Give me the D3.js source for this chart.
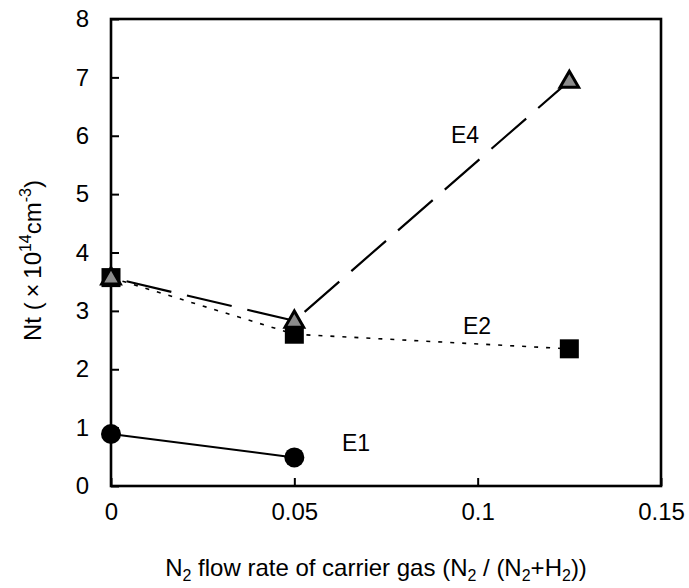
<!DOCTYPE html>
<html>
<head>
<meta charset="utf-8">
<script src="https://cdn.jsdelivr.net/npm/d3@7"></script>
<style>
    body { margin: 0; background: #fff; }
    svg text { font-family: "Liberation Sans", Arial, sans-serif; fill: #000; }
</style>
</head>
<body>
<div id="chart"></div>
<script>
// data
const flowRate = [0, 0.05, 0.125];
const e1Values = [0.89, 0.49];
const e2Values = [3.57, 2.60, 2.35];
const e4Values = [3.57, 2.83, 6.94];
const xTicks = [0, 0.05, 0.1, 0.15];
const yTicks = [0, 1, 2, 3, 4, 5, 6, 7, 8];

document.addEventListener("DOMContentLoaded", () => {
    const width = 689, height = 588;
    const margin = { top: 19, right: 28, bottom: 102, left: 111 };

    const svg = d3.select("#chart").append("svg")
        .attr("width", width)
        .attr("height", height);

    const x = d3.scaleLinear().domain([0, 0.15]).range([margin.left, width - margin.right]);
    const y = d3.scaleLinear().domain([0, 8]).range([height - margin.bottom, margin.top]);

    // frame
    svg.append("rect")
        .attr("x", x(0)).attr("y", y(8))
        .attr("width", x(0.15) - x(0)).attr("height", y(0) - y(8))
        .attr("fill", "none").attr("stroke", "#000").attr("stroke-width", 2.6);

    // axes with inward ticks
    const xAxis = d3.axisBottom(x).tickValues(xTicks).tickSize(-8).tickPadding(17)
        .tickFormat(d => d === 0 ? "0" : String(d));
    const gx = svg.append("g").attr("transform", `translate(0,${y(0)})`).call(xAxis);

    const yAxis = d3.axisLeft(y).tickValues(yTicks).tickSize(-8).tickPadding(22)
        .tickFormat(d3.format("d"));
    const gy = svg.append("g").attr("transform", `translate(${x(0)},0)`).call(yAxis);

    [gx, gy].forEach(g => {
        g.select(".domain").remove();
        g.selectAll(".tick line").attr("stroke", "#000").attr("stroke-width", 2);
        g.selectAll(".tick text")
            .attr("font-size", 24)
            .style("font-family", "'Liberation Sans', Arial, sans-serif");
    });

    const line = d3.line().x((d, i) => x(flowRate[i])).y(d => y(d));

    // E1 solid
    svg.append("path").datum(e1Values).attr("d", line)
        .attr("fill", "none").attr("stroke", "#000").attr("stroke-width", 2);

    // E2 dotted
    svg.append("path").datum(e2Values).attr("d", line)
        .attr("fill", "none").attr("stroke", "#000").attr("stroke-width", 1.6)
        .attr("stroke-dasharray", "4,8");

    // E4 long dashes
    svg.append("path").datum(e4Values).attr("d", line)
        .attr("fill", "none").attr("stroke", "#000").attr("stroke-width", 2.2)
        .attr("stroke-dasharray", "46,16").attr("stroke-dashoffset", 46);

    // markers
    svg.selectAll(".e1").data(e1Values).enter().append("circle")
        .attr("cx", (d, i) => x(flowRate[i])).attr("cy", d => y(d))
        .attr("r", 10).attr("fill", "#000");

    svg.selectAll(".e2").data(e2Values).enter().append("rect")
        .attr("x", (d, i) => x(flowRate[i]) - 9.5).attr("y", d => y(d) - 9.5)
        .attr("width", 19).attr("height", 19).attr("fill", "#000");

    const tri = d3.symbol().type(d3.symbolTriangle).size(150);
    svg.selectAll(".e4").data(e4Values).enter().append("path")
        .attr("d", tri)
        .attr("transform", (d, i) => `translate(${x(flowRate[i])},${y(d) + 1})`)
        .attr("fill", "#8c8c8c").attr("stroke", "#000").attr("stroke-width", 3)
        .attr("stroke-linejoin", "miter");

    // series labels
    svg.append("text").attr("x", 451).attr("y", 143).attr("font-size", 23).text("E4");
    svg.append("text").attr("x", 463).attr("y", 334).attr("font-size", 23).text("E2");
    svg.append("text").attr("x", 342).attr("y", 451).attr("font-size", 23).text("E1");

    // x axis title
    const xt = svg.append("text").attr("x", 376).attr("y", 576)
        .attr("text-anchor", "middle").attr("font-size", 24);
    xt.append("tspan").text("N");
    xt.append("tspan").attr("dy", 5).attr("font-size", 16).text("2");
    xt.append("tspan").attr("dy", -5).text(" flow rate of carrier gas (N");
    xt.append("tspan").attr("dy", 5).attr("font-size", 16).text("2");
    xt.append("tspan").attr("dy", -5).text(" / (N");
    xt.append("tspan").attr("dy", 5).attr("font-size", 16).text("2");
    xt.append("tspan").attr("dy", -5).text("+H");
    xt.append("tspan").attr("dy", 5).attr("font-size", 16).text("2");
    xt.append("tspan").attr("dy", -5).text("))");

    // y axis title
    const yt = svg.append("text")
        .attr("transform", `translate(41,${(y(0) + y(8)) / 2 + 8}) rotate(-90)`)
        .attr("text-anchor", "middle").attr("font-size", 24);
    yt.append("tspan").text("Nt (\u2009\u00d7\u200910");
    yt.append("tspan").attr("dy", -10).attr("font-size", 16).text("14");
    yt.append("tspan").attr("dy", 10).text("cm");
    yt.append("tspan").attr("dy", -10).attr("font-size", 16).text("-3");
    yt.append("tspan").attr("dy", 10).text(")");
});
</script>
</body>
</html>
